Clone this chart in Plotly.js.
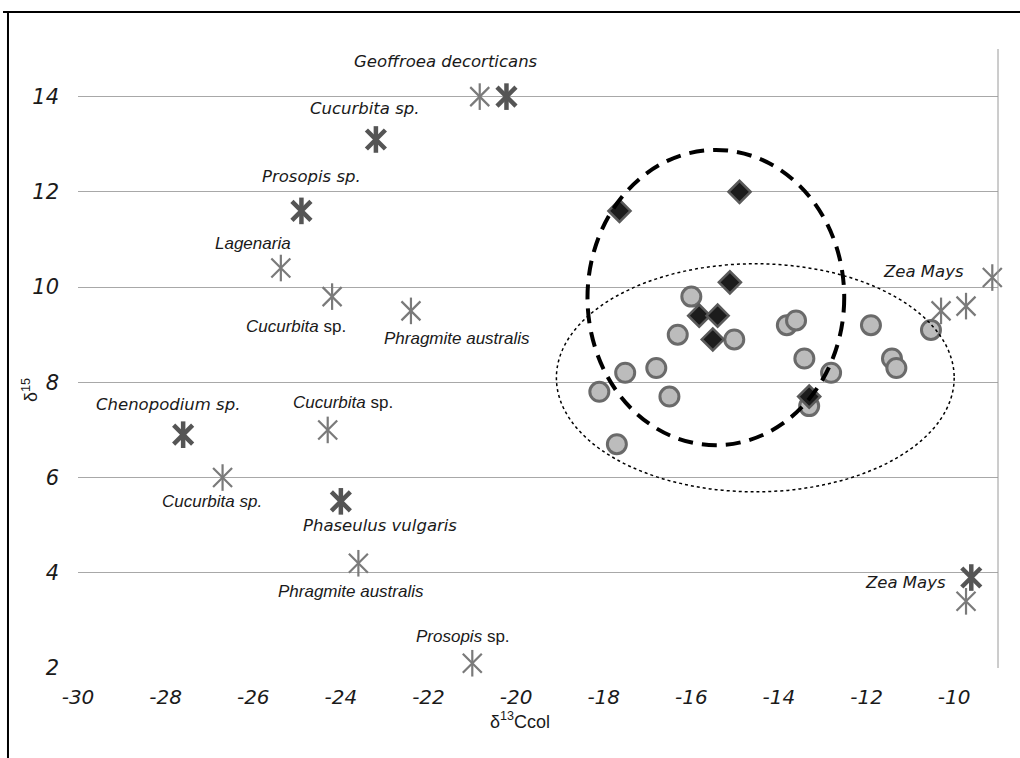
<!DOCTYPE html>
<html>
<head>
<meta charset="utf-8">
<script src="https://cdn.plot.ly/plotly-3.0.1.min.js"></script>
<style>html,body{margin:0;padding:0;background:#fff;}#chart{width:1020px;height:758px;}</style>
</head>
<body>
<div id="chart"></div>
<script>
// ---- data ----
const thinStarX = [-20.83, -25.37, -24.2, -22.4, -24.3, -26.7, -23.6, -21.0, -9.13, -10.3, -9.73, -9.73];
const thinStarY = [14.0, 10.4, 9.8, 9.5, 7.0, 6.0, 4.2, 2.1, 10.2, 9.5, 9.6, 3.4];
const boldStarX = [-20.22, -23.2, -24.9, -27.6, -24.0, -9.61];
const boldStarY = [14.0, 13.1, 11.6, 6.9, 5.5, 3.9];
const circleX = [-16.0, -16.31, -15.02, -13.82, -13.61, -13.42, -12.81, -13.31, -17.51, -16.8, -18.1, -16.5, -17.7, -11.9, -10.53, -11.42, -11.32];
const circleY = [9.8, 9.0, 8.9, 9.2, 9.3, 8.5, 8.2, 7.5, 8.2, 8.3, 7.8, 7.7, 6.7, 9.2, 9.1, 8.5, 8.3];
const diamondX = [-17.64, -14.9, -15.12, -15.82, -15.4, -15.51, -13.31];
const diamondY = [11.6, 12.0, 10.1, 9.4, 9.4, 8.9, 7.7];
const labelTexts = ['Geoffroea decorticans', 'Cucurbita sp.', 'Prosopis sp.', 'Lagenaria',
  'Cucurbita <span style="font-style:normal">sp.</span>', 'Phragmite australis', 'Chenopodium sp.',
  'Cucurbita <span style="font-style:normal">sp.</span>', 'Cucurbita sp.', 'Phaseulus vulgaris',
  'Phragmite australis', 'Prosopis <span style="font-style:normal">sp.</span>', 'Zea Mays', 'Zea Mays'];
const xTickVals = [-30, -28, -26, -24, -22, -20, -18, -16, -14, -12, -10];
const xTickText = ['-30', '-28', '-26', '-24', '-22', '-20', '-18', '-16', '-14', '-12', '-10'];
const yTickVals = [2, 4, 6, 8, 10, 12, 14];
const yTickText = ['2', '4', '6', '8', '10', '12', '14'];
const xTitle = 'δ<sup>13</sup>Ccol';
const yTitle = 'δ<sup>15</sup>';

// ---- label placement / style (layout only) ----
const labelPos = [[-21.61, 14.73], [-23.45, 13.76], [-24.66, 12.32], [-26.01, 10.91], [-25.03, 9.18],
  [-21.36, 8.91], [-27.95, 7.53], [-23.96, 7.57], [-26.94, 5.49], [-23.11, 5.0], [-23.77, 3.6],
  [-21.22, 2.67], [-10.71, 10.32], [-11.12, 3.79]];
const labelFont = ['v', 'v', 'v', 'a', 'a', 'a', 'v', 'a', 'a', 'v', 'a', 'a', 'v', 'v'];

const thinC = '#7a7a7a', boldC = '#555555';
function starTraces(xs, ys, size, w, col) {
  return ['x-thin-open', 'line-ns-open'].map(sym => ({
    type: 'scatter', mode: 'markers', x: xs, y: ys, hoverinfo: 'skip', showlegend: false, cliponaxis: false,
    marker: {symbol: sym, size: size, color: col, line: {width: w, color: col}}
  }));
}
const traces = [
  ...starTraces(thinStarX, thinStarY, 19, 2.2, thinC),
  ...starTraces(boldStarX, boldStarY, 19, 4.5, boldC),
  {type: 'scatter', mode: 'markers', x: circleX, y: circleY, showlegend: false, cliponaxis: false,
   marker: {symbol: 'circle', size: 19, color: '#bcbcbc', line: {width: 3, color: '#6a6a6a'}}},
  {type: 'scatter', mode: 'markers', x: diamondX, y: diamondY, showlegend: false, cliponaxis: false,
   marker: {symbol: 'diamond', size: 17, color: '#1c1c1c', line: {width: 2.5, color: '#5a5a5a'}}}
];

const annotations = labelTexts.map((t, i) => ({
  x: labelPos[i][0], y: labelPos[i][1], xref: 'x', yref: 'y', text: '<i>' + t + '</i>', showarrow: false,
  xanchor: 'center', yanchor: 'middle',
  font: labelFont[i] === 'v'
    ? {family: 'DejaVu Sans', size: 16.5, color: '#1a1a1a'}
    : {family: 'Liberation Sans', size: 17, color: '#1a1a1a'}
}));
annotations.push({x: 0.4804, y: -0.085, xref: 'paper', yref: 'paper', text: xTitle, showarrow: false,
  xanchor: 'center', yanchor: 'middle', font: {family: 'Liberation Sans', size: 18, color: '#1a1a1a'}});
annotations.push({x: -0.0522, y: 0.449, xref: 'paper', yref: 'paper', text: yTitle, showarrow: false,
  textangle: -90, xanchor: 'center', yanchor: 'middle', font: {family: 'Liberation Sans', size: 18, color: '#1a1a1a'}});

const shapes = [
  {type: 'circle', xref: 'x', yref: 'y', x0: -18.37, x1: -12.51, y0: 6.68, y1: 12.88,
   line: {color: '#000', width: 4, dash: '15px,9px'}},
  {type: 'circle', xref: 'x', yref: 'y', x0: -19.08, x1: -10.0, y0: 5.70, y1: 10.49,
   line: {color: '#000', width: 1.5, dash: 'dot'}},
  {type: 'line', xref: 'paper', yref: 'paper', x0: 1, x1: 1, y0: 0, y1: 1,
   line: {color: '#9a9a9a', width: 1}},
  {type: 'line', xref: 'paper', yref: 'paper', x0: -0.0815, x1: 1.05, y0: 1.0598, y1: 1.0598,
   line: {color: '#000', width: 2}},
  {type: 'line', xref: 'paper', yref: 'paper', x0: -0.0761, x1: -0.0761, y0: 1.0614, y1: -0.2,
   line: {color: '#000', width: 2}}
];

const layout = {
  width: 1020, height: 758,
  margin: {l: 78, r: 22, t: 49, b: 90, pad: 0},
  paper_bgcolor: '#fff', plot_bgcolor: '#fff',
  showlegend: false,
  xaxis: {
    range: [-30, -9], tickmode: 'array', tickvals: xTickVals, ticktext: xTickText.map(t => '<i>' + t + '</i>'),
    showgrid: false, zeroline: false, showline: false, ticks: '',
    ticklabelstandoff: 15,
    tickfont: {family: 'DejaVu Sans', size: 20, color: '#1a1a1a'}
  },
  yaxis: {
    range: [2, 15], tickmode: 'array', tickvals: yTickVals, ticktext: yTickText.map(t => '<i>' + t + '</i>'),
    showgrid: true, gridcolor: '#a8a8a8', gridwidth: 1, zeroline: false, showline: false, ticks: '',
    ticklabelstandoff: 18,
    tickfont: {family: 'DejaVu Sans', size: 21, color: '#1a1a1a'}
  },
  annotations: annotations,
  shapes: shapes
};

Plotly.newPlot('chart', traces, layout, {displayModeBar: false, staticPlot: true});
</script>
</body>
</html>
